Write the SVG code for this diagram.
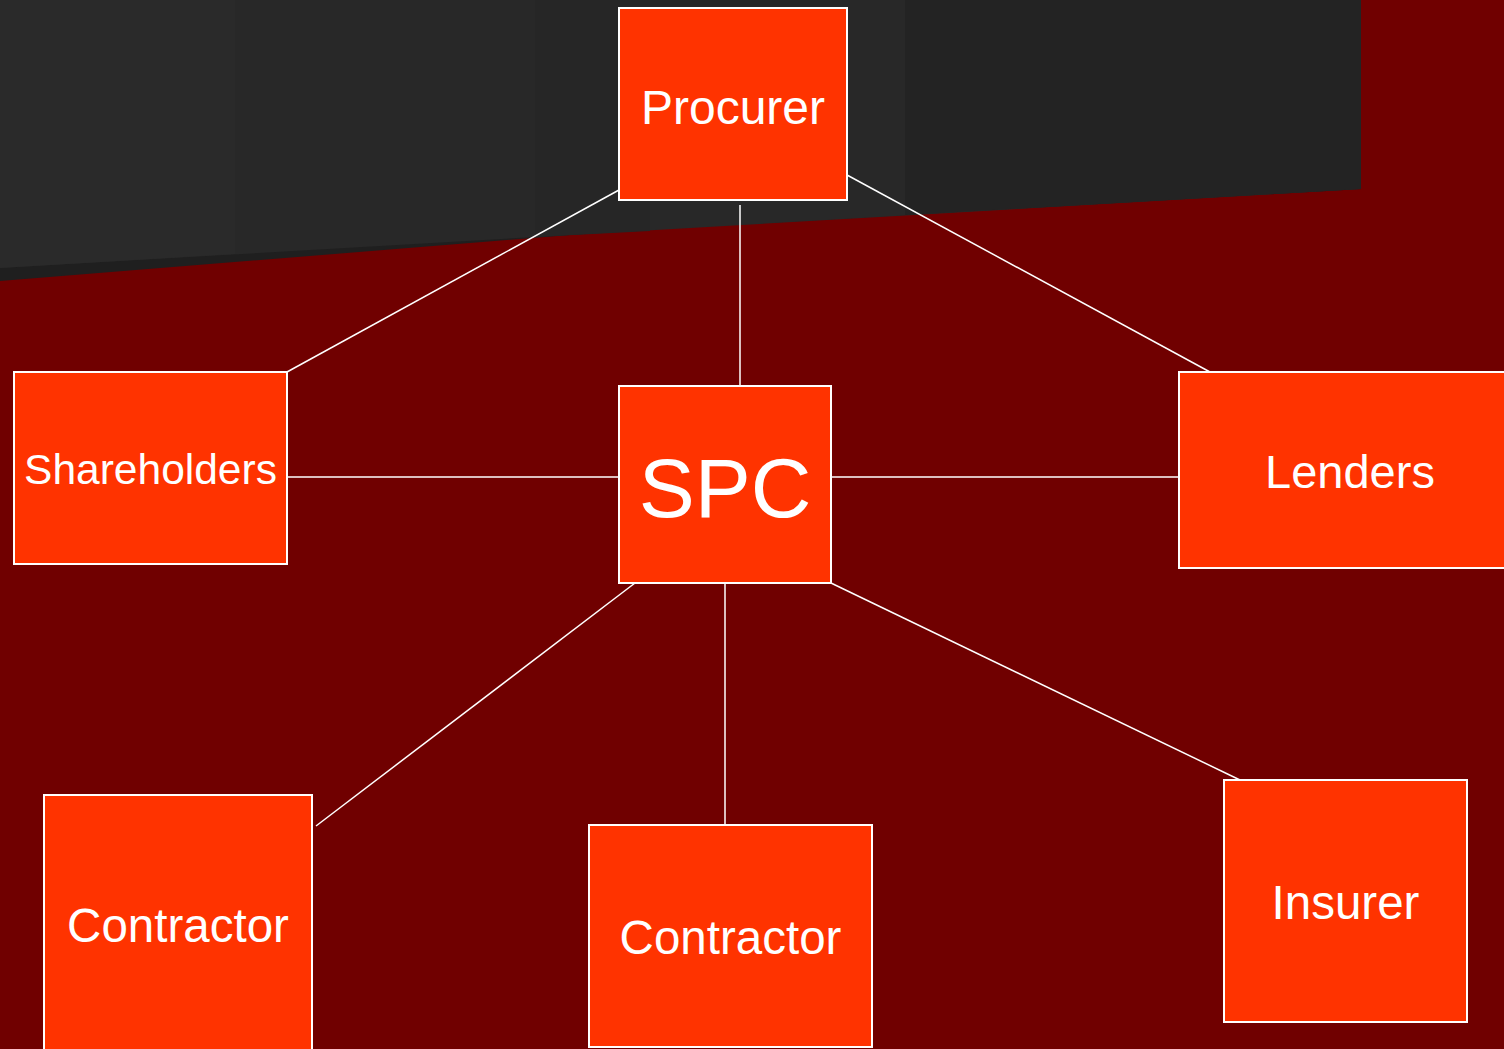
<svg xmlns="http://www.w3.org/2000/svg" width="1504" height="1049" viewBox="0 0 1504 1049">
  <style>
    .node rect { fill: #ff3300; stroke: #ffffff; stroke-width: 2; }
    .node text { fill: #ffffff; font-family: "Liberation Sans", Arial, sans-serif; text-anchor: middle; }
    .link { stroke: #ffffff; stroke-width: 1.5; fill: none; }
  </style>

  <!-- backdrop -->
  <rect x="0" y="0" width="1504" height="1049" fill="#700000"/>
  <g id="backdrop-panel">
    <polygon points="0,0 1361,0 1361,189 607,232 0,281" fill="#1f1f1f"/>
    <polygon points="0,0 1361,0 1361,189 0,268" fill="#282828"/>
    <polygon points="0,0 235,0 235,254 0,268" fill="#2a2a2a"/>
    <polygon points="535,0 650,0 650,231 535,237" fill="#262626"/>
    <polygon points="905,0 1361,0 1361,189 905,215" fill="#232323"/>
  </g>

  <!-- connectors -->
  <g id="connectors">
    <line class="link" x1="619" y1="190" x2="287" y2="372"/>
    <line class="link" x1="847" y1="175" x2="1210" y2="372"/>
    <line class="link" x1="740" y1="205" x2="740" y2="386"/>
    <line class="link" x1="619" y1="477" x2="287" y2="477"/>
    <line class="link" x1="831" y1="477" x2="1179" y2="477"/>
    <line class="link" x1="635" y1="583" x2="316" y2="826"/>
    <line class="link" x1="725" y1="583" x2="725" y2="825"/>
    <line class="link" x1="831" y1="583" x2="1240" y2="780"/>
  </g>

  <g id="procurer" class="node">
    <rect x="619" y="8" width="228" height="192"/>
    <text x="733" y="124" font-size="48">Procurer</text>
  </g>

  <g id="spc" class="node">
    <rect x="619" y="386" width="212" height="197"/>
    <text x="725" y="517" font-size="84">SPC</text>
  </g>

  <g id="shareholders" class="node">
    <rect x="14" y="372" width="273" height="192"/>
    <text x="150.5" y="484" font-size="42.5">Shareholders</text>
  </g>

  <g id="lenders" class="node">
    <rect x="1179" y="372" width="342" height="196"/>
    <text x="1350" y="488" font-size="47">Lenders</text>
  </g>

  <g id="contractor-left" class="node">
    <rect x="44" y="795" width="268" height="270"/>
    <text x="178" y="942" font-size="47.5">Contractor</text>
  </g>

  <g id="contractor-middle" class="node">
    <rect x="589" y="825" width="283" height="222"/>
    <text x="730.5" y="954" font-size="47.5">Contractor</text>
  </g>

  <g id="insurer" class="node">
    <rect x="1224" y="780" width="243" height="242"/>
    <text x="1345.5" y="919" font-size="47.5">Insurer</text>
  </g>
</svg>
